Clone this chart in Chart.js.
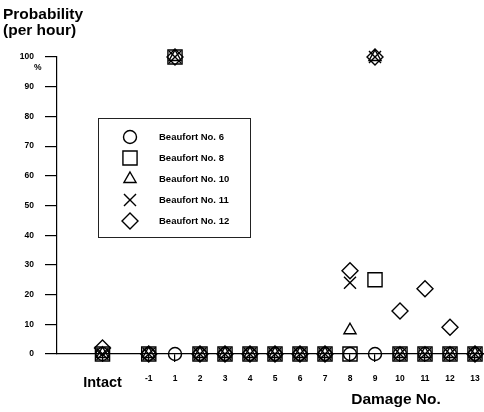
<!DOCTYPE html>
<html>
<head>
<meta charset="utf-8">
<script src="https://cdn.jsdelivr.net/npm/chart.js@4/dist/chart.umd.min.js"></script>
<style>
  html, body { margin: 0; padding: 0; background: #fff; }
  #wrap { width: 484px; height: 412px; }
</style>
</head>
<body>
<div id="wrap"><canvas id="chart" width="484" height="412"></canvas></div>
<script>
// damage cases on the x axis and where they sit on it
const categories = ['Intact', '-1', '1', '2', '3', '4', '5', '6', '7', '8', '9', '10', '11', '12', '13'];
const xPositions = [-1.9, -0.05, 1, 2, 3, 4, 5, 6, 7, 8, 9, 10, 11, 12, 13];
const yTicks = [0, 10, 20, 30, 40, 50, 60, 70, 80, 90, 100];

// probability (%) per hour
const beaufort6  = [0, 0, 0,   0, 0, 0, 0, 0, 0, 0,  0,   0,    0,  0, 0];
const beaufort8  = [0, 0, 100, 0, 0, 0, 0, 0, 0, 0,  25,  0,    0,  0, 0];
const beaufort10 = [0, 0, 100, 0, 0, 0, 0, 0, 0, 8,  100, 0,    0,  0, 0];
const beaufort11 = [0, 0, 100, 0, 0, 0, 0, 0, 0, 24, 100, 0,    0,  0, 0];
const beaufort12 = [2, 0, 100, 0, 0, 0, 0, 0, 0, 28, 100, 14.5, 22, 9, 0];

const seriesNames = ['Beaufort No. 6', 'Beaufort No. 8', 'Beaufort No. 10', 'Beaufort No. 11', 'Beaufort No. 12'];
const seriesValues = [beaufort6, beaufort8, beaufort10, beaufort11, beaufort12];
const markerStyles = ['circle', 'rect', 'triangle', 'crossRot', 'rectRot'];
const markerSizes = [6.5, 10, 7, 8.5, 8];

const FONT = "'Liberation Sans', Arial, sans-serif";

const datasets = seriesValues.map((vals, i) => ({
  label: seriesNames[i],
  data: vals.map((v, j) => ({ x: xPositions[j], y: v })),
  showLine: false,
  clip: false,
  pointStyle: markerStyles[i],
  pointRadius: markerSizes[i],
  pointHoverRadius: markerSizes[i],
  pointBorderWidth: 1.4,
  pointBorderColor: '#000',
  pointBackgroundColor: 'rgba(0,0,0,0)',
  borderColor: '#000',
  backgroundColor: 'rgba(0,0,0,0)'
}));

const annotations = {
  id: 'annotations',
  afterDraw(chart) {
    const ctx = chart.ctx;
    ctx.save();
    ctx.fillStyle = '#000';
    ctx.textBaseline = 'alphabetic';
    ctx.textAlign = 'left';
    ctx.font = 'bold 15.5px ' + FONT;
    ctx.fillText('Probability', 3, 19);
    ctx.fillText('(per hour)', 3, 35);
    ctx.font = 'bold 8.5px ' + FONT;
    ctx.fillText('%', 34, 70);
    ctx.font = 'bold 15.5px ' + FONT;
    ctx.textAlign = 'center';
    ctx.fillText('Damage No.', 396, 404);

    // legend box
    const bx = 98, by = 118, bw = 152, bh = 119;
    ctx.strokeStyle = '#222';
    ctx.lineWidth = 1;
    ctx.strokeRect(bx + 0.5, by + 0.5, bw, bh);
    ctx.font = 'bold 9.5px ' + FONT;
    ctx.textAlign = 'left';
    ctx.textBaseline = 'middle';
    seriesNames.forEach((name, i) => {
      const y = 137 + i * 21;
      ctx.strokeStyle = '#000';
      ctx.fillStyle = 'rgba(0,0,0,0)';
      ctx.lineWidth = 1.4;
      Chart.helpers.drawPoint(ctx, {
        pointStyle: markerStyles[i],
        radius: markerSizes[i],
        rotation: 0,
        borderWidth: 1.4
      }, 130, y);
      ctx.fillStyle = '#000';
      ctx.fillText(name, 159, y);
    });
    ctx.restore();
  }
};

new Chart(document.getElementById('chart').getContext('2d'), {
  type: 'scatter',
  data: { datasets: datasets },
  options: {
    responsive: false,
    animation: false,
    layout: { autoPadding: false, padding: { top: 57, right: 0, left: 0, bottom: 0 } },
    scales: {
      x: {
        type: 'linear',
        min: -3.72,
        max: 13.36,
        afterBuildTicks: (scale) => {
          scale.ticks = xPositions.map(v => ({ value: v }));
        },
        afterFit: (scale) => {
          scale.height = 58;
          scale.paddingLeft = 0;
          scale.paddingRight = 0;
        },
        border: { color: '#000', width: 1.2 },
        grid: { drawOnChartArea: false, color: '#000', tickLength: 8, lineWidth: 1.2 },
        ticks: {
          autoSkip: false,
          maxRotation: 0,
          color: '#000',
          padding: 12,
          font: (c) => c.index === 0
            ? { family: FONT, size: 14.5, weight: 'bold' }
            : { family: FONT, size: 8.5, weight: 'bold' },
          callback: (value, index) => categories[index]
        }
      },
      y: {
        min: 0,
        max: 100,
        afterBuildTicks: (scale) => {
          scale.ticks = yTicks.map(v => ({ value: v }));
        },
        afterFit: (scale) => { scale.width = 57; },
        border: { color: '#000', width: 1.2 },
        grid: { drawOnChartArea: false, color: '#000', tickLength: 12, lineWidth: 1.2 },
        ticks: {
          color: '#000',
          padding: 11,
          font: { family: FONT, size: 8.5, weight: 'bold' }
        }
      }
    },
    plugins: {
      legend: { display: false },
      tooltip: { enabled: false }
    }
  },
  plugins: [annotations]
});
</script>
</body>
</html>
